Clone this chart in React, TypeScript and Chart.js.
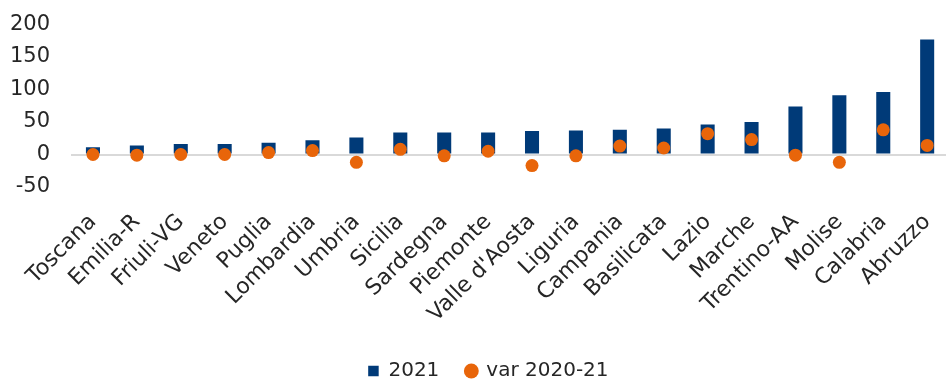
import React, { useEffect, useRef } from "react";
import { Chart, registerables } from "chart.js";

Chart.register(...registerables);

// Regions, ordered by 2021 value
const regions = [
  "Toscana", "Emilia-R", "Friuli-VG", "Veneto", "Puglia", "Lombardia", "Umbria",
  "Sicilia", "Sardegna", "Piemonte", "Valle d'Aosta", "Liguria", "Campania",
  "Basilicata", "Lazio", "Marche", "Trentino-AA", "Molise", "Calabria", "Abruzzo",
];

// 2021 values (bars)
const values2021 = [
  11, 14, 16, 16, 18, 22, 26, 34, 34, 34, 36, 37, 38, 40, 46, 50, 74, 91, 96, 177,
];

// Change 2020-21 (dots)
const var2020_21 = [
  0, -1, 0, 0, 3, 6, -12, 8, -2, 5, -17, -2, 13, 10, 32, 23, -1, -12, 38, 14,
];

const yTicks = [-50, 0, 50, 100, 150, 200];

const FONT = "'DejaVu Sans', sans-serif";
const NAVY = "#003A78";
const ORANGE = "#E8650A";
const TEXT = "#262626";

export default function App() {
  const ref = useRef<HTMLCanvasElement>(null);

  useEffect(() => {
    if (!ref.current) return;
    const chart = new Chart(ref.current, {
      type: "bar",
      data: {
        labels: regions,
        datasets: [
          {
            type: "bar",
            label: "2021",
            data: values2021,
            backgroundColor: NAVY,
            borderWidth: 0,
            categoryPercentage: 1,
            barPercentage: 0.32,
            pointStyle: "rect",
            order: 1,
          },
          {
            type: "line",
            label: "var 2020-21",
            data: var2020_21,
            showLine: false,
            backgroundColor: ORANGE,
            borderColor: ORANGE,
            pointRadius: 6.5,
            pointBorderWidth: 0,
            pointStyle: "circle",
            order: 0,
          },
        ],
      },
      options: {
        responsive: false,
        animation: false,
        devicePixelRatio: 1,
        layout: { padding: { left: 0, top: 24.5, right: -17, bottom: 0 } },
        plugins: {
          tooltip: { enabled: false },
          legend: {
            position: "bottom",
            labels: {
              usePointStyle: true,
              boxWidth: 10,
              boxHeight: 10.5,
              padding: 27,
              color: TEXT,
              font: { family: FONT, size: 20 },
              sort: (a: any, b: any) => a.datasetIndex - b.datasetIndex,
            },
          },
        },
        scales: {
          x: {
            grid: { display: false },
            border: { display: false },
            ticks: {
              autoSkip: false,
              minRotation: 45,
              maxRotation: 45,
              color: TEXT,
              padding: 14,
              font: { family: FONT, size: 22 },
            },
            afterFit: (scale: any) => {
              scale.height = 147;
            },
          },
          y: {
            min: -50,
            max: 200,
            afterBuildTicks: (scale: any) => {
              scale.ticks = yTicks.map((v) => ({ value: v }));
            },
            afterFit: (scale: any) => {
              scale.width = 71;
            },
            border: { display: false },
            grid: {
              drawTicks: true,
              tickLength: 21,
              tickColor: "rgba(0,0,0,0)",
              lineWidth: (ctx: any) => (ctx.tick && ctx.tick.value === 0 ? 2 : 0),
              color: (ctx: any) =>
                ctx.tick && ctx.tick.value === 0 ? "#D9D9D9" : "rgba(0,0,0,0)",
            },
            ticks: {
              padding: 0,
              color: TEXT,
              font: { family: FONT, size: 21 },
            },
          },
        },
      },
    });
    return () => chart.destroy();
  }, []);

  return (
    <div
      style={{
        position: "fixed",
        left: 0,
        top: 0,
        width: 946,
        height: 381,
        overflow: "hidden",
        background: "#fff",
      }}
    >
      <canvas ref={ref} width={960} height={391} style={{ display: "block" }} />
    </div>
  );
}
